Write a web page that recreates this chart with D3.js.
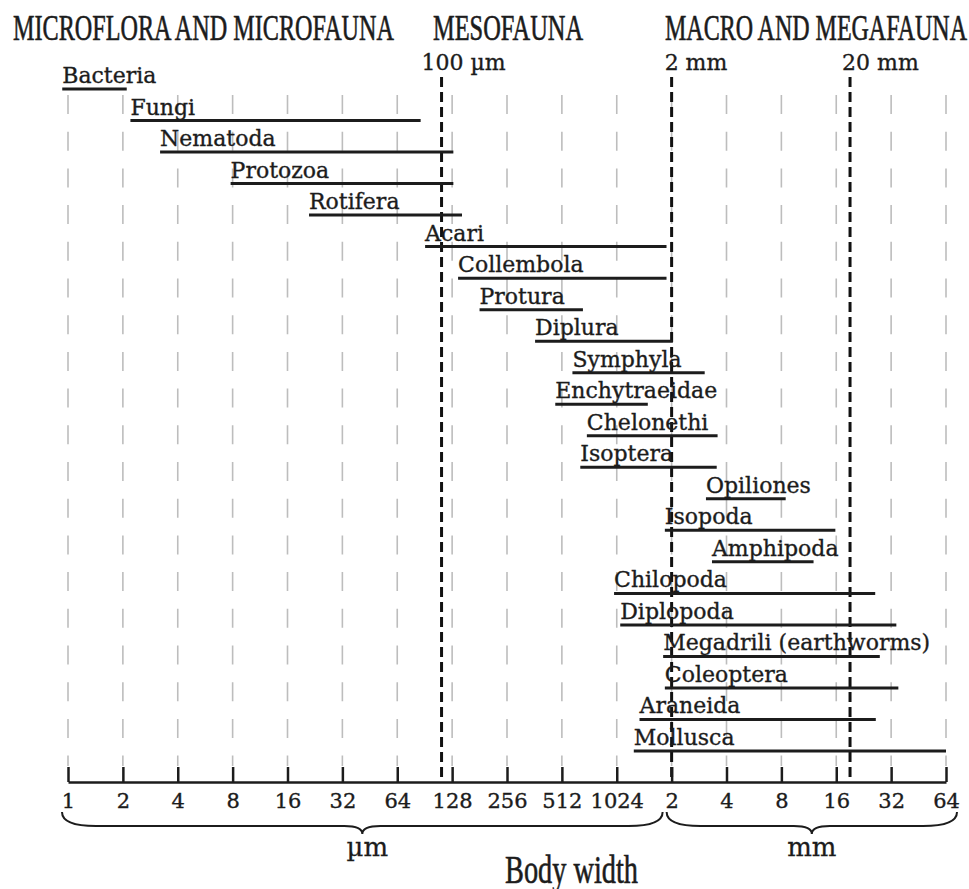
<!DOCTYPE html>
<html lang="en">
<head>
<meta charset="UTF-8">
<script src="https://d3js.org/d3.v7.min.js"></script>
<title>Soil biota by body width</title>
<style>
  body { margin: 0; background: #fff; }
</style>
</head>
<body>
<div id="canvas"></div>
<script>
// body width ranges, in µm (2 mm = 2048 on this doubling scale)
const groups = ["Bacteria", "Fungi", "Nematoda", "Protozoa", "Rotifera", "Acari", "Collembola",
  "Protura", "Diplura", "Symphyla", "Enchytraeidae", "Chelonethi", "Isoptera", "Opiliones",
  "Isopoda", "Amphipoda", "Chilopoda", "Diplopoda", "Megadrili (earthworms)", "Coleoptera",
  "Araneida", "Mollusca"]
const minWidth = [0.93, 2.2, 3.2, 7.8, 21, 91, 138, 181, 365, 585, 471, 702, 646, 3160,
  1880, 3410, 990, 1070, 1840, 1880, 1365, 1270]
const maxWidth = [2.1, 86, 130, 130, 145, 1920, 1920, 668, 2080, 3110, 1516, 3660, 3620, 8650,
  16200, 12300, 26800, 35000, 28400, 35900, 27000, 65536]

const tickValues = [1, 2, 4, 8, 16, 32, 64, 128, 256, 512, 1024, 2048, 4096, 8192, 16384, 32768, 65536]
const tickLabels = ["1", "2", "4", "8", "16", "32", "64", "128", "256", "512", "1024",
  "2", "4", "8", "16", "32", "64"]

const markerValues = [112, 2048, 19500]
const markerLabels = ["100 µm", "2 mm", "20 mm"]

const headings = ["MICROFLORA AND MICROFAUNA", "MESOFAUNA", "MACRO AND MEGAFAUNA"]
const unitFrom = [1, 2048]
const unitTo = [2048, 65536]
const unitLabels = ["µm", "mm"]

const width = 969, height = 889
const axisY = 782
const ink = "#1c1c1c"

const svg = d3.select("#canvas").append("svg").attr("width", width).attr("height", height)

const x = d3.scaleLog().base(2).domain([1, 65536]).range([68, 946])
const y = d3.scalePoint().domain(groups).range([89, 751])

// headings along the top (condensed serif)
const headingX = [13, 433, 665]
const headingLen = [381, 150, 302]
svg.append("g").selectAll("text").data(headings).join("text")
  .attr("x", (d, i) => headingX[i])
  .attr("y", 40)
  .attr("textLength", (d, i) => headingLen[i])
  .attr("lengthAdjust", "spacingAndGlyphs")
  .attr("font-family", "Liberation Serif")
  .attr("font-size", 35)
  .attr("fill", ink)
  .attr("stroke", ink)
  .attr("stroke-width", 0.6)
  .text(d => d)

// light dashed grid at every tick
svg.append("g").selectAll("line").data(tickValues).join("line")
  .attr("x1", d => x(d)).attr("x2", d => x(d))
  .attr("y1", 95).attr("y2", 766)
  .attr("stroke", "#bdbdbd")
  .attr("stroke-width", 1.6)
  .attr("stroke-dasharray", "19 17.7")

// heavy dashed size-class borders
svg.append("g").selectAll("line").data(markerValues).join("line")
  .attr("x1", d => x(d)).attr("x2", d => x(d))
  .attr("y1", 77).attr("y2", axisY)
  .attr("stroke", "#111")
  .attr("stroke-width", 3)
  .attr("stroke-dasharray", "10 5")

const markerDx = [-20, -7, -8]
svg.append("g").selectAll("text").data(markerValues).join("text")
  .attr("x", (d, i) => x(d) + markerDx[i])
  .attr("y", 70)
  .attr("font-family", "DejaVu Serif")
  .attr("font-size", 22)
  .attr("fill", ink)
  .attr("stroke", ink)
  .attr("stroke-width", 0.35)
  .text((d, i) => markerLabels[i])

// range bars
svg.append("g").selectAll("line").data(groups).join("line")
  .attr("x1", (d, i) => x(minWidth[i]))
  .attr("x2", (d, i) => x(maxWidth[i]))
  .attr("y1", d => y(d)).attr("y2", d => y(d))
  .attr("stroke", ink)
  .attr("stroke-width", 3)

svg.append("g").selectAll("text").data(groups).join("text")
  .attr("x", (d, i) => x(minWidth[i]))
  .attr("y", d => y(d) - 6)
  .attr("font-family", "DejaVu Serif")
  .attr("font-size", 22)
  .attr("fill", ink)
  .attr("stroke", ink)
  .attr("stroke-width", 0.35)
  .text(d => d)

// axis with upward ticks
const xAxis = d3.axisBottom(x)
  .tickValues(tickValues)
  .tickFormat((d, i) => tickLabels[i])
  .tickSizeInner(-15)
  .tickSizeOuter(0)
  .tickPadding(11)
const gx = svg.append("g").attr("transform", `translate(0,${axisY})`).call(xAxis)
gx.select(".domain").attr("stroke", ink).attr("stroke-width", 2.5)
gx.selectAll(".tick line").attr("stroke", ink).attr("stroke-width", 2.5)
gx.selectAll(".tick text")
  .attr("font-family", "DejaVu Serif")
  .attr("font-size", 21)
  .attr("fill", ink)
  .attr("stroke", ink)
  .attr("stroke-width", 0.35)

// curly braces under the axis
function brace(x1, x2) {
  const y0 = 812, y1 = 826, y2 = 834, qe = 34, qm = 18
  const xm = (x1 + x2) / 2
  return `M${x1},${y0} Q${x1},${y1} ${x1 + qe},${y1} L${xm - qm},${y1} Q${xm},${y1} ${xm},${y2}` +
    ` Q${xm},${y1} ${xm + qm},${y1} L${x2 - qe},${y1} Q${x2},${y1} ${x2},${y0}`
}
const braceL = [x(unitFrom[0]) - 6, x(unitFrom[1]) - 5]
const braceR = [x(unitTo[0]) - 9, x(unitTo[1]) + 11]
svg.append("g").selectAll("path").data(unitLabels).join("path")
  .attr("d", (d, i) => brace(braceL[i], braceR[i]))
  .attr("fill", "none")
  .attr("stroke", ink)
  .attr("stroke-width", 2)

svg.append("g").selectAll("text").data(unitLabels).join("text")
  .attr("x", (d, i) => (braceL[i] + braceR[i]) / 2 + (i === 0 ? 5 : 0))
  .attr("y", 856)
  .attr("text-anchor", "middle")
  .attr("font-family", "DejaVu Serif")
  .attr("font-size", 26)
  .attr("fill", ink)
  .attr("stroke", ink)
  .attr("stroke-width", 0.3)
  .text(d => d)

svg.append("text")
  .attr("x", 505)
  .attr("y", 883)
  .attr("textLength", 133)
  .attr("lengthAdjust", "spacingAndGlyphs")
  .attr("font-family", "Liberation Serif")
  .attr("font-size", 40)
  .attr("fill", ink)
  .attr("stroke", ink)
  .attr("stroke-width", 0.6)
  .text("Body width")
</script>
</body>
</html>
